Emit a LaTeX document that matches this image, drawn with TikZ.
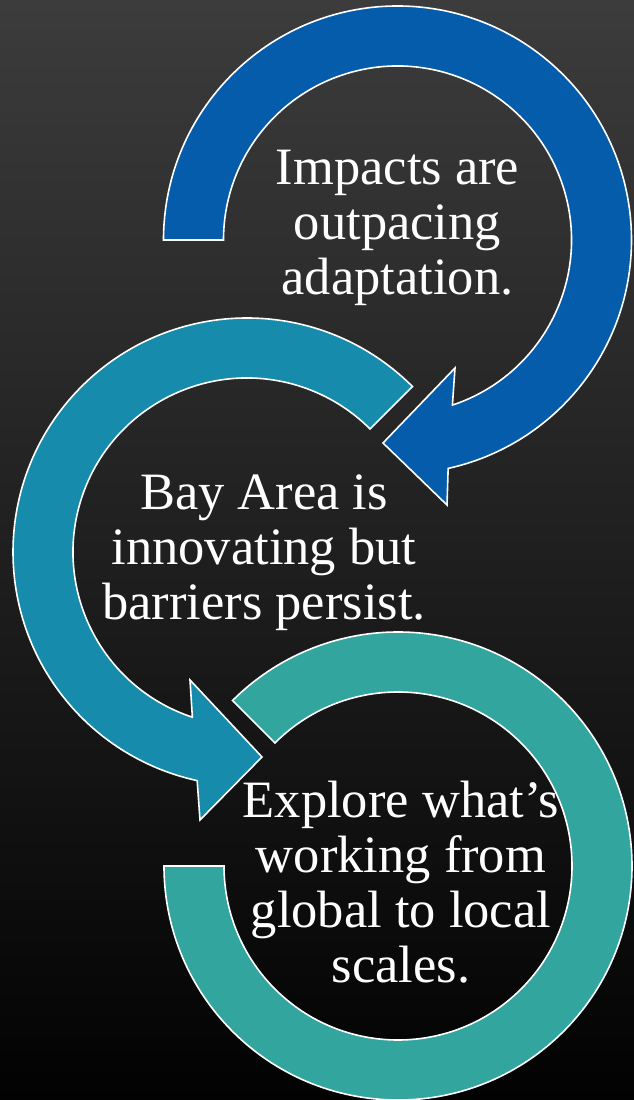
\documentclass[tikz,border=0pt]{standalone}
\usepackage{fontspec}
\setmainfont{Liberation Serif}
\definecolor{bgtop}{HTML}{3C3C3C}
\definecolor{bgbot}{HTML}{020202}
\definecolor{arrowA}{HTML}{055CAB}
\definecolor{arrowB}{HTML}{168BAB}
\definecolor{arrowC}{HTML}{33A59F}
\begin{document}
\begin{tikzpicture}[x=1pt,y=1pt,
  ring/.style={draw=white,line width=1.6pt,line join=miter},
  lbl/.style={text=white,align=center,inner sep=0pt,anchor=base,
    font=\fontsize{52.5}{55}\selectfont}]
\useasboundingbox (0,0) rectangle (634,1100);
\shade[top color=bgtop,bottom color=bgbot] (0,0) rectangle (634,1100);
% arrow 1 (blue), centre (397.5,860)
\coordinate (c1) at (397.5,860);
\begin{scope}[shift={(c1)}]
\path[ring,fill=arrowA] (180:234) arc[start angle=180,end angle=-77.5,radius=234]
  -- (49.5,-265) -- (-14.5,-203) -- (57.5,-128)
  -- (-71.6:174) arc[start angle=-71.6,end angle=180,radius=174] -- cycle;
\end{scope}
% arrow 2 (teal blue), centre (247,548)
\coordinate (c2) at (247,548);
\begin{scope}[shift={(c2)}]
\path[ring,fill=arrowB] (45:234) arc[start angle=45,end angle=257.7,radius=234]
  -- (-47,-268) -- (15,-205) -- (-57,-128)
  -- (251.7:174) arc[start angle=251.7,end angle=45,radius=174] -- cycle;
\end{scope}
% arrow 3 (teal green), centre (398,234)
\coordinate (c3) at (398,234);
\begin{scope}[shift={(c3)}]
\path[ring,fill=arrowC] (180:234) arc[start angle=180,end angle=495,radius=234]
  -- (495:174) arc[start angle=495,end angle=180,radius=174] -- cycle;
\end{scope}
% texts (base anchor = baseline of last line)
\node[lbl] (t1) at (397.5,805) {Impacts are\\outpacing\\adaptation.};
\node[lbl] (t2) at (264,480) {Bay Area is\\innovating but\\barriers persist.};
\node[lbl] (t3) at (401,117) {Explore what’s\\working from\\global to local\\scales.};
\end{tikzpicture}
\end{document}
